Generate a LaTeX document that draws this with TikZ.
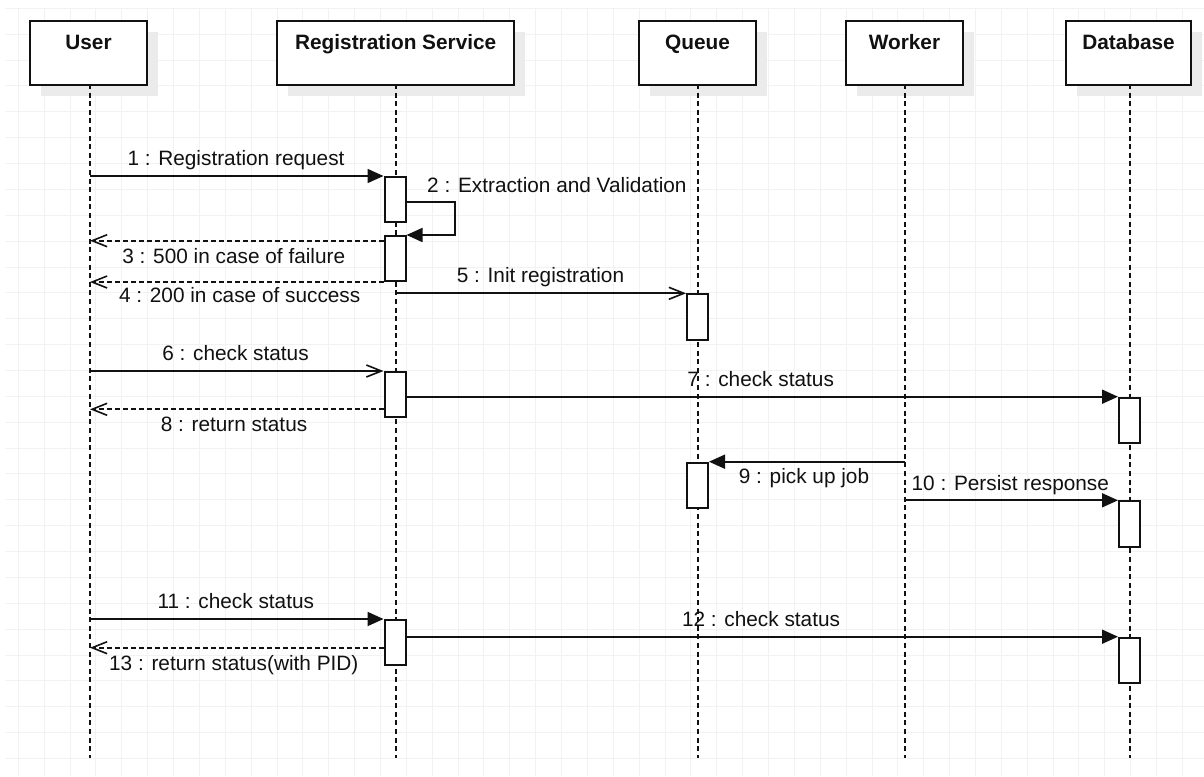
\documentclass[tikz,border=0pt]{standalone}
\usepackage{fontspec}
\setmainfont{Liberation Sans}
\usetikzlibrary{arrows.meta,shadows}
\definecolor{gridc}{HTML}{F2F2F2}
\definecolor{shadc}{HTML}{EBEBEB}
\definecolor{linec}{HTML}{111111}
\begin{document}
\begin{tikzpicture}[x=1pt,y=-1pt,
  txt/.style={font=\fontsize{20.8}{25}\selectfont, inner sep=0pt, text=linec},
  lbl/.style={txt, anchor=base},
  head/.style={draw=linec, line width=2.2pt, fill=white, anchor=north,
    minimum width=#1, inner xsep=0pt, inner ysep=0pt,
    text height=28pt, text depth=35.7pt,
    font=\fontsize{20.8}{25}\selectfont\bfseries, text=linec,
    drop shadow={shadow xshift=11pt, shadow yshift=-11pt, fill=shadc, opacity=1}},
  act/.style={draw=linec, line width=2pt, fill=white, anchor=north west,
    minimum width=21pt, minimum height=#1, inner sep=0pt},
  life/.style={draw=linec, line width=1.9pt, dash pattern=on 5pt off 3.6pt},
  msg/.style={draw=linec, line width=1.8pt},
  call/.style={msg, -{Triangle[length=16pt,width=14pt]}},
  async/.style={msg, -{Straight Barb[length=15pt,width=12pt,line width=1.6pt]}},
  reply/.style={msg, dash pattern=on 5pt off 3pt, -{Straight Barb[length=15pt,width=12pt,line width=1.6pt]}},
]
\useasboundingbox (0,0) rectangle (1204,776);
\fill[white] (0,0) rectangle (1204,776);
% grid
\foreach \i in {0,...,46} {
  \draw[gridc, line width=1pt] ({18.3+25.87*\i},8.3) -- ({18.3+25.87*\i},776);
}
\foreach \j in {0,...,29} {
  \draw[gridc, line width=1pt] (5,{8.3+25.87*\j}) -- (1204,{8.3+25.87*\j});
}
% headers
\node[head=117pt] (u) at (88.5,20.3) {User};
\node[head=237pt] (r) at (395.7,20.3) {Registration Service};
\node[head=116.5pt] (q) at (697.5,20.3) {Queue};
\node[head=116.7pt] (w) at (904.5,20.3) {Worker};
\node[head=125pt] (d) at (1128.5,20.3) {Database};
% lifelines
\coordinate (bot) at (0,758);
\coordinate (uL) at (90,84);
\coordinate (rL) at (395.7,84);
\coordinate (qL) at (697.7,84);
\coordinate (wL) at (904.7,84);
\coordinate (dL) at (1130,84);
\foreach \n in {uL,rL,qL,wL,dL} {
  \draw[life] (\n) -- (\n |- bot);
}
% activations
\node[act=45pt] (r1) at (383.5,176) {};
\node[act=45pt] (r2) at (383.5,235) {};
\node[act=46pt] (q1) at (686,293.3) {};
\node[act=45pt] (r3) at (383.5,371) {};
\node[act=45pt] (d1) at (1118,396.7) {};
\node[act=45.5pt] (q2) at (686,461.7) {};
\node[act=45.5pt] (d2) at (1118,500.3) {};
\node[act=45pt] (r4) at (383.5,619) {};
\node[act=45.5pt] (d3) at (1118,636.7) {};
% message y positions
\coordinate (y2) at (0,202);
\coordinate (y3) at (0,240.7);
\coordinate (y8) at (0,409.3);
\coordinate (y13) at (0,647.7);
% messages
\draw[call] (uL |- r1.north west) -- (r1.north west);
\draw[call] (r1.east |- y2) -- ++(48.5,0) |- (r2.north east);
\draw[reply] (r2.west |- y3) -- (uL |- y3);
\draw[reply] (r2.south west) -- (uL |- r2.south west);
\draw[async] (rL |- q1.north west) -- (q1.north west);
\draw[async] (uL |- r3.north west) -- (r3.north west);
\draw[call] (r3.east |- d1.north west) -- (d1.north west);
\draw[reply] (r3.west |- y8) -- (uL |- y8);
\draw[call] (wL |- q2.north east) -- (q2.north east);
\draw[call] (wL |- d2.north west) -- (d2.north west);
\draw[call] (uL |- r4.north west) -- (r4.north west);
\draw[call] (r4.east |- d3.north west) -- (d3.north west);
\draw[reply] (r4.west |- y13) -- (uL |- y13);
% labels
\node[lbl] (l1) at (236,165.5) {1 : Registration request};
\node[lbl, anchor=base west] (l2) at (427,192.3) {2 : Extraction and Validation};
\node[lbl] (l3) at (233.8,263.3) {3 : 500 in case of failure};
\node[lbl] (l4) at (239.7,302.3) {4 : 200 in case of success};
\node[lbl] (l5) at (540.5,282.7) {5 : Init registration};
\node[lbl] (l6) at (235.5,360.5) {6 : check status};
\node[lbl] (l7) at (760.7,386) {7 : check status};
\node[lbl] (l8) at (234,431.5) {8 : return status};
\node[lbl] (l9) at (804,483.3) {9 : pick up job};
\node[lbl] (l10) at (1010.3,490.7) {10 : Persist response};
\node[lbl] (l11) at (235.8,608.3) {11 : check status};
\node[lbl] (l12) at (761,626) {12 : check status};
\node[lbl] (l13) at (233.8,670) {13 : return status(with PID)};
\end{tikzpicture}
\end{document}
